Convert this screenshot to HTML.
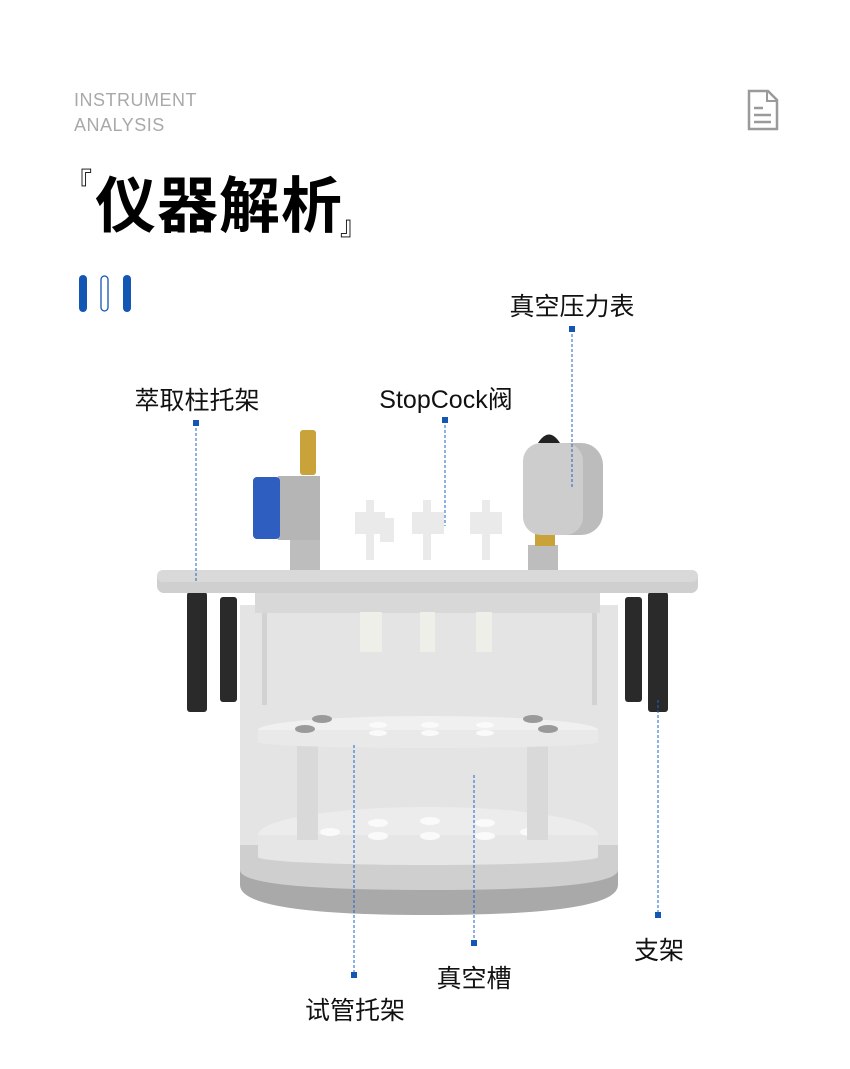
<!DOCTYPE html>
<html><head><meta charset="utf-8"><style>
html,body{margin:0;padding:0;background:#fff}
body{width:850px;height:1069px;position:relative;overflow:hidden;font-family:"Liberation Sans","Noto Sans CJK SC",sans-serif}
.en{position:absolute;left:74px;color:#a9a9a9;font-size:18px;letter-spacing:0.5px;line-height:25px}
.lbl{position:absolute;font-size:25px;color:#111;white-space:nowrap;transform:translateX(-50%)}
.t{position:absolute;font-family:'Noto Sans CJK SC',sans-serif;color:#000;white-space:nowrap;line-height:1}
</style></head><body>
<div class="en" style="top:88px">INSTRUMENT<br>ANALYSIS</div>
<div class="t" style="left:95px;top:170px;font-size:61px;font-weight:bold;letter-spacing:1px">仪器解析</div>
<div class="t" style="left:66px;top:168px;font-size:26px">『</div>
<div class="t" style="left:340px;top:212px;font-size:26px">』</div>
<svg width="850" height="1069" style="position:absolute;left:0;top:0">
<rect x="79" y="275" width="8" height="37" rx="4" fill="#1456b4"/>
<rect x="101" y="276" width="7" height="35" rx="3.5" fill="#fff" stroke="#1456b4" stroke-width="1.3"/>
<rect x="123" y="275" width="8" height="37" rx="4" fill="#1456b4"/>
<path d="M749 91 H768 L777 100 V129 H749 Z" fill="none" stroke="#9a9a9a" stroke-width="2.5"/>
<path d="M767 91 V101 H777" fill="none" stroke="#9a9a9a" stroke-width="2"/>
<line x1="754" y1="108" x2="763" y2="108" stroke="#9a9a9a" stroke-width="2.5"/>
<line x1="754" y1="115" x2="771" y2="115" stroke="#9a9a9a" stroke-width="2.5"/>
<line x1="754" y1="122" x2="771" y2="122" stroke="#9a9a9a" stroke-width="2.5"/>
<path d="M240 845 H618 V885 Q618 915 429 915 Q240 915 240 885 Z" fill="#a9a9a9"/>
<rect x="240" y="605" width="378" height="250" fill="#e4e4e4"/>
<rect x="262" y="605" width="5" height="100" fill="#d2d2d2"/>
<rect x="592" y="605" width="5" height="100" fill="#d2d2d2"/>
<path d="M240 845 H618 V870 Q618 890 429 890 Q240 890 240 870 Z" fill="#cfcfcf"/>
<ellipse cx="428" cy="835" rx="170" ry="28" fill="#ececec"/>
<rect x="258" y="835" width="340" height="22" fill="#e6e6e6"/>
<ellipse cx="428" cy="857" rx="170" ry="8" fill="#e6e6e6"/>
<g fill="#fafafa">
<ellipse cx="378" cy="823" rx="10" ry="4"/><ellipse cx="430" cy="821" rx="10" ry="4"/><ellipse cx="485" cy="823" rx="10" ry="4"/>
<ellipse cx="378" cy="836" rx="10" ry="4"/><ellipse cx="430" cy="836" rx="10" ry="4"/><ellipse cx="485" cy="836" rx="10" ry="4"/>
<ellipse cx="330" cy="832" rx="10" ry="4"/><ellipse cx="530" cy="832" rx="10" ry="4"/>
</g>
<rect x="297" y="742" width="21" height="98" fill="#d9d9d9"/>
<rect x="527" y="742" width="21" height="98" fill="#d9d9d9"/>
<ellipse cx="428" cy="730" rx="170" ry="14" fill="#f0f0f0"/>
<rect x="258" y="730" width="340" height="12" fill="#e9e9e9"/>
<ellipse cx="428" cy="742" rx="170" ry="6" fill="#e9e9e9"/>
<g fill="#fafafa"><ellipse cx="378" cy="725" rx="9" ry="3"/><ellipse cx="430" cy="725" rx="9" ry="3"/><ellipse cx="485" cy="725" rx="9" ry="3"/><ellipse cx="378" cy="733" rx="9" ry="3"/><ellipse cx="430" cy="733" rx="9" ry="3"/><ellipse cx="485" cy="733" rx="9" ry="3"/></g>
<ellipse cx="322" cy="719" rx="10" ry="4" fill="#9a9a9a"/><ellipse cx="533" cy="719" rx="10" ry="4" fill="#9a9a9a"/>
<ellipse cx="305" cy="729" rx="10" ry="4" fill="#9a9a9a"/><ellipse cx="548" cy="729" rx="10" ry="4" fill="#9a9a9a"/>
<rect x="255" y="590" width="345" height="23" fill="#d8d8d8"/>
<rect x="360" y="612" width="22" height="40" fill="#efefea"/>
<rect x="420" y="612" width="15" height="40" fill="#efefea"/>
<rect x="476" y="612" width="16" height="40" fill="#efefea"/>
<rect x="187" y="592" width="20" height="120" rx="3" fill="#2a2a2a"/>
<rect x="220" y="597" width="17" height="105" rx="3" fill="#2a2a2a"/>
<rect x="625" y="597" width="17" height="105" rx="3" fill="#2a2a2a"/>
<rect x="648" y="592" width="20" height="120" rx="3" fill="#2a2a2a"/>
<rect x="157" y="570" width="541" height="23" rx="7" fill="#cfcfcf"/>
<rect x="157" y="570" width="541" height="12" rx="6" fill="#d9d9d9"/>
<rect x="300" y="430" width="16" height="45" rx="3" fill="#c9a23a"/>
<rect x="290" y="540" width="30" height="30" fill="#bdbdbd"/>
<rect x="278" y="476" width="42" height="64" fill="#b5b5b5"/>
<rect x="253" y="477" width="27" height="62" rx="4" fill="#2d5ec0"/>
<g fill="#eaeaea">
<rect x="355" y="512" width="30" height="22"/><rect x="366" y="500" width="8" height="60"/><rect x="380" y="518" width="14" height="24"/>
<rect x="412" y="512" width="32" height="22"/><rect x="423" y="500" width="8" height="60"/>
<rect x="470" y="512" width="32" height="22"/><rect x="482" y="500" width="8" height="60"/>
</g>
<rect x="528" y="545" width="30" height="25" fill="#bdbdbd"/>
<rect x="535" y="522" width="20" height="24" fill="#c9a23a"/>
<rect x="523" y="443" width="80" height="92" rx="22" fill="#bcbcbc"/>
<rect x="523" y="443" width="60" height="92" rx="18" fill="#cdcdcd"/>
<path d="M538 443 Q549 426 560 443 Z" fill="#222"/>
<g stroke="#1e63c8" stroke-width="1" stroke-dasharray="3,2" fill="none">
<line x1="196" y1="423" x2="196" y2="582"/>
<line x1="445" y1="420" x2="445" y2="526"/>
<line x1="572" y1="329" x2="572" y2="488"/>
<line x1="658" y1="700" x2="658" y2="915"/>
<line x1="474" y1="775" x2="474" y2="943"/>
<line x1="354" y1="745" x2="354" y2="975"/>
</g>
<g fill="#1456b4">
<rect x="193" y="420" width="6" height="6"/><rect x="442" y="417" width="6" height="6"/><rect x="569" y="326" width="6" height="6"/>
<rect x="655" y="912" width="6" height="6"/><rect x="471" y="940" width="6" height="6"/><rect x="351" y="972" width="6" height="6"/>
</g>
</svg>
<div class="lbl" style="left:572px;top:287px">真空压力表</div>
<div class="lbl" style="left:197px;top:381px">萃取柱托架</div>
<div class="lbl" style="left:446px;top:380px">StopCock阀</div>
<div class="lbl" style="left:659px;top:931px">支架</div>
<div class="lbl" style="left:474px;top:959px">真空槽</div>
<div class="lbl" style="left:355px;top:991px">试管托架</div>
</body></html>
